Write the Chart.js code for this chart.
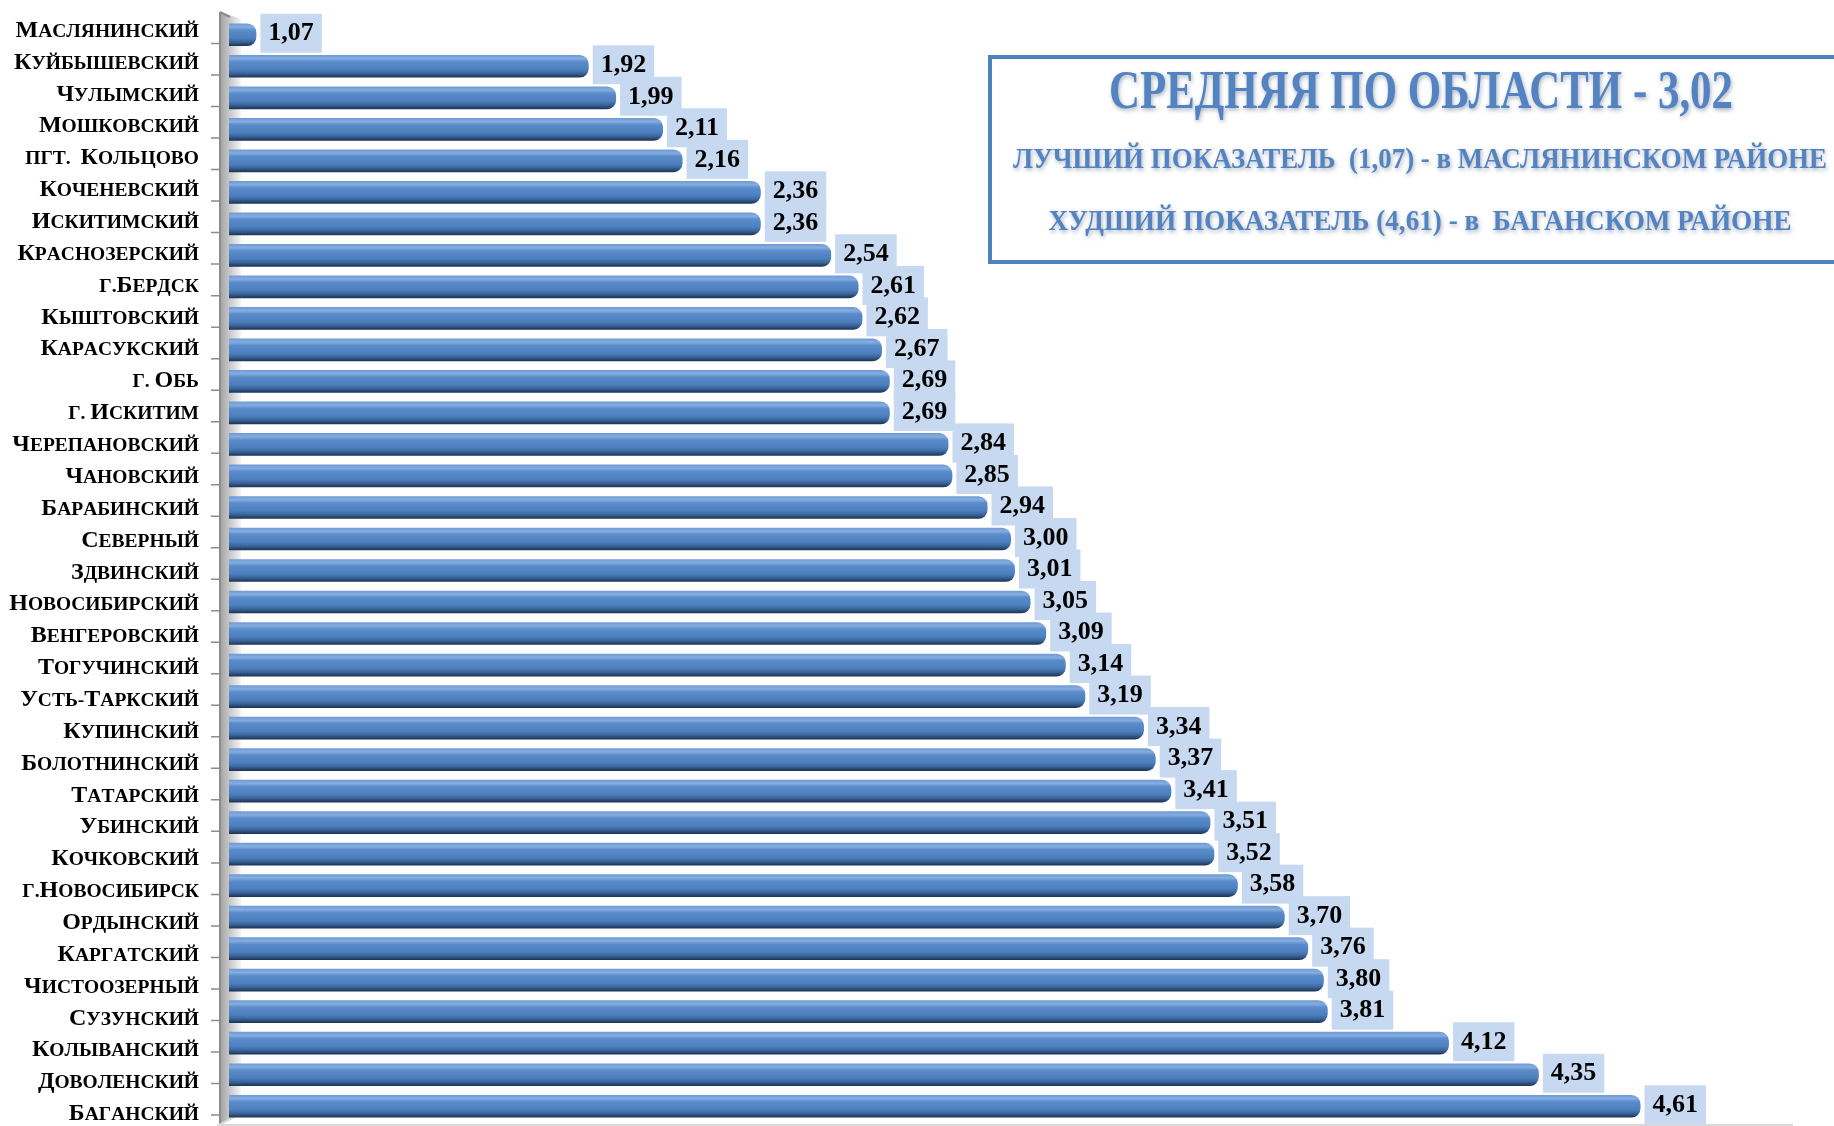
<!DOCTYPE html>
<html>
<head>
<meta charset="utf-8">
<script src="https://cdn.jsdelivr.net/npm/chart.js@4/dist/chart.umd.min.js"></script>
<style>
  html, body { margin: 0; padding: 0; background: #fff; }
  #wrap { width: 1834px; height: 1126px; }
</style>
</head>
<body>
<div id="wrap"><canvas id="chart-area"></canvas></div>
<script>
// районы, сверху вниз
var districts = [
  'Маслянинский', 'Куйбышевский', 'Чулымский', 'Мошковский', 'пгт.  Кольцово',
  'Коченевский', 'Искитимский', 'Краснозерский', 'г.Бердск', 'Кыштовский',
  'Карасукский', 'г. Обь', 'г. Искитим', 'Черепановский', 'Чановский',
  'Барабинский', 'Северный', 'Здвинский', 'Новосибирский', 'Венгеровский',
  'Тогучинский', 'Усть-Таркский', 'Купинский', 'Болотнинский', 'Татарский',
  'Убинский', 'Кочковский', 'г.Новосибирск', 'Ордынский', 'Каргатский',
  'Чистоозерный', 'Сузунский', 'Колыванский', 'Доволенский', 'Баганский'
];
var values = [
  1.07, 1.92, 1.99, 2.11, 2.16,
  2.36, 2.36, 2.54, 2.61, 2.62,
  2.67, 2.69, 2.69, 2.84, 2.85,
  2.94, 3.00, 3.01, 3.05, 3.09,
  3.14, 3.19, 3.34, 3.37, 3.41,
  3.51, 3.52, 3.58, 3.70, 3.76,
  3.80, 3.81, 4.12, 4.35, 4.61
];
var axisRange = [1, 5];
var infoLines = [
  'СРЕДНЯЯ ПО ОБЛАСТИ - 3,02',
  'ЛУЧШИЙ ПОКАЗАТЕЛЬ  (1,07) - в МАСЛЯНИНСКОМ РАЙОНЕ',
  'ХУДШИЙ ПОКАЗАТЕЛЬ (4,61) - в  БАГАНСКОМ РАЙОНЕ'
];

var colors = {
  steel: '#4f81bd',
  infoText: '#5383c0',
  labelBox: '#c6d9f1',
  wallDark: '#a3a3a3',
  wallLight: '#f4f4f4',
  axis: '#8c8c8c',
  floor: '#d9d9d9'
};
var serif = '"Liberation Serif", "Times New Roman", serif';

function fmt(v) {
  return v.toFixed(2).replace('.', ',');
}

// cylinder-like gradient for each bar
function barFill(context) {
  var chart = context.chart;
  if (!chart.chartArea) return colors.steel;
  var y = chart.scales.y.getPixelForValue(context.dataIndex);
  var g = chart.ctx.createLinearGradient(0, y - 11, 0, y + 11);
  g.addColorStop(0, '#6f9bd5');
  g.addColorStop(0.15, '#86ade0');
  g.addColorStop(0.3, '#5a8bca');
  g.addColorStop(0.65, '#4d7fbf');
  g.addColorStop(0.82, '#3a659a');
  g.addColorStop(1, '#1e3557');
  return g;
}

// back wall, axis line, ticks and floor
var wallPlugin = {
  id: 'wall',
  beforeDatasetsDraw: function (chart) {
    var ctx = chart.ctx;
    var area = chart.chartArea;
    var ys = chart.scales.y;
    var x0 = area.left - 9, x1 = area.left + 12;
    var top = 12, bottom = area.bottom + 3;
    ctx.save();
    var g = ctx.createLinearGradient(x0, 0, x1, 0);
    g.addColorStop(0, colors.wallDark);
    g.addColorStop(1, colors.wallLight);
    ctx.fillStyle = g;
    ctx.beginPath();
    ctx.moveTo(x0, top);
    ctx.lineTo(x1, top + 7);
    ctx.lineTo(x1, bottom - 10);
    ctx.lineTo(x0, bottom);
    ctx.closePath();
    ctx.fill();

    ctx.strokeStyle = colors.axis;
    ctx.lineWidth = 2;
    ctx.beginPath();
    ctx.moveTo(x0, top);
    ctx.lineTo(x0, bottom);
    ctx.moveTo(x0, top);
    ctx.lineTo(x0 + 10, top + 5);
    ctx.stroke();

    // ticks between categories
    var band = ys.getPixelForValue(1) - ys.getPixelForValue(0);
    ctx.lineWidth = 1.5;
    ctx.beginPath();
    for (var i = 0; i < districts.length; i++) {
      var ty = ys.getPixelForValue(i) + band / 2 - 7;
      ctx.moveTo(x0 - 9, ty);
      ctx.lineTo(x0, ty);
    }
    ctx.stroke();

    ctx.strokeStyle = colors.floor;
    ctx.lineWidth = 2;
    ctx.beginPath();
    ctx.moveTo(x0, bottom);
    ctx.lineTo(area.right, bottom);
    ctx.moveTo(x0 - 3, bottom + 1);
    ctx.lineTo(x1 - 6, bottom - 9);
    ctx.stroke();
    ctx.restore();
  }
};

// category names in small caps: capitals big, the rest smaller capitals
var namePlugin = {
  id: 'names',
  afterDraw: function (chart) {
    var ctx = chart.ctx;
    var ys = chart.scales.y;
    var big = 'bold 24px ' + serif, small = 'bold 19.5px ' + serif;
    var right = 199;
    ctx.save();
    ctx.fillStyle = '#000';
    ctx.textBaseline = 'alphabetic';
    ctx.textAlign = 'left';
    districts.forEach(function (name, i) {
      var parts = [];
      for (var k = 0; k < name.length; k++) {
        var ch = name[k];
        var up = ch.toUpperCase();
        var isCap = ch === up && ch.toLowerCase() !== ch;
        ctx.font = isCap ? big : small;
        parts.push({ t: up, f: ctx.font, w: ctx.measureText(up).width });
      }
      var total = parts.reduce(function (s, p) { return s + p.w; }, 0);
      var x = right - total;
      var y = ys.getPixelForValue(i) + 8 + (i - 17) * 0.35;
      parts.forEach(function (p) {
        ctx.font = p.f;
        ctx.fillText(p.t, x, y);
        x += p.w;
      });
    });
    ctx.restore();
  }
};

// value boxes to the right of the bars
var valuePlugin = {
  id: 'values',
  afterDatasetsDraw: function (chart) {
    var ctx = chart.ctx;
    var meta = chart.getDatasetMeta(0);
    ctx.save();
    ctx.font = 'bold 26px ' + serif;
    ctx.textBaseline = 'middle';
    ctx.textAlign = 'left';
    meta.data.forEach(function (bar, i) {
      var txt = fmt(values[i]);
      var w = ctx.measureText(txt).width + 16;
      var bx = bar.x + 4, by = bar.y - 21;
      ctx.fillStyle = colors.labelBox;
      ctx.fillRect(bx, by, w, 39);
      ctx.fillStyle = '#000';
      ctx.fillText(txt, bx + 8, by + 20);
    });
    ctx.restore();
  }
};

// info box in the upper right corner
var infoPlugin = {
  id: 'info',
  afterDraw: function (chart) {
    var ctx = chart.ctx;
    ctx.save();
    ctx.strokeStyle = colors.steel;
    ctx.lineWidth = 4;
    ctx.strokeRect(990, 57, 900, 205);

    ctx.fillStyle = colors.infoText;
    ctx.textAlign = 'center';
    ctx.textBaseline = 'middle';
    ctx.shadowColor = 'rgba(60,80,110,0.45)';
    ctx.shadowBlur = 4;
    ctx.shadowOffsetX = 1;
    ctx.shadowOffsetY = 2;
    ctx.font = 'bold 54px ' + serif;
    ctx.fillText(infoLines[0], 1421, 94, 624);
    ctx.font = 'bold 29px ' + serif;
    ctx.fillText(infoLines[1], 1420, 161, 814);
    ctx.fillText(infoLines[2], 1420, 223, 743);
    ctx.restore();
  }
};

var ctx = document.getElementById('chart-area').getContext('2d');
var chart = new Chart(ctx, {
  type: 'bar',
  data: {
    labels: districts,
    datasets: [{
      data: values,
      backgroundColor: barFill,
      borderWidth: 0,
      borderRadius: { topRight: 9, bottomRight: 9, topLeft: 0, bottomLeft: 0 },
      borderSkipped: false,
      barPercentage: 0.72,
      categoryPercentage: 1
    }]
  },
  options: {
    indexAxis: 'y',
    responsive: true,
    maintainAspectRatio: false,
    animation: false,
    layout: { padding: { top: 19, bottom: 4, left: 0, right: 41 } },
    plugins: {
      legend: { display: false },
      tooltip: { enabled: false }
    },
    scales: {
      x: {
        display: false,
        min: axisRange[0],
        max: axisRange[1]
      },
      y: {
        grid: { display: false, drawTicks: false },
        border: { display: false },
        ticks: { display: false },
        afterFit: function (scale) {
          scale.width = 229;
          scale.paddingTop = 0;
          scale.paddingBottom = 0;
        }
      }
    }
  },
  plugins: [wallPlugin, valuePlugin, namePlugin, infoPlugin]
});
</script>
</body>
</html>
